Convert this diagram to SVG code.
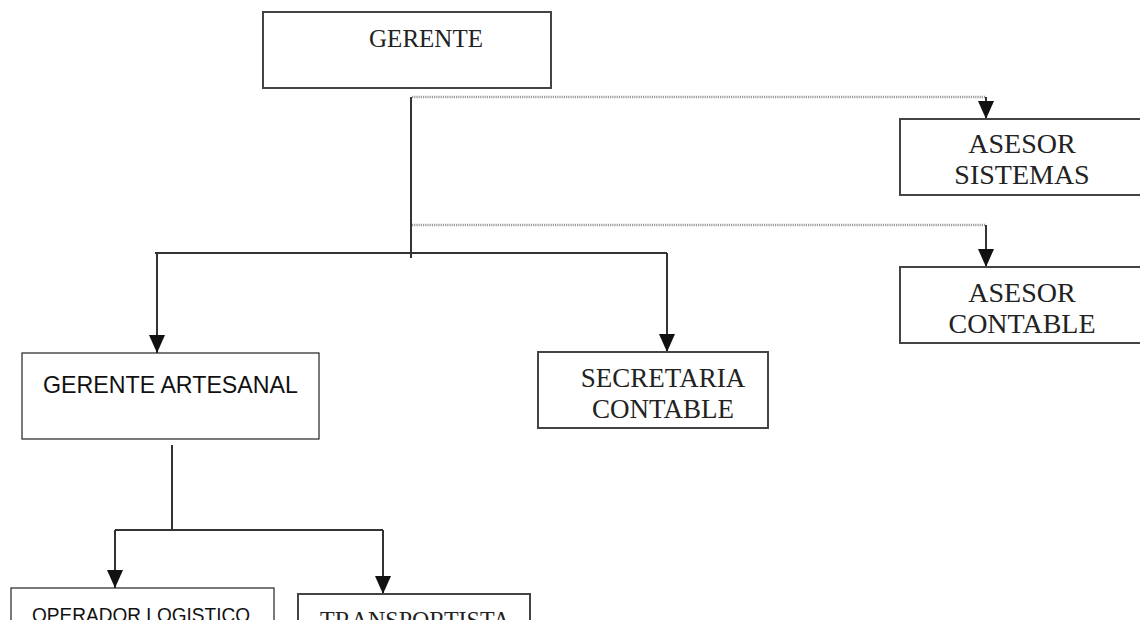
<svg xmlns="http://www.w3.org/2000/svg" width="1140" height="620" viewBox="0 0 1140 620">
<style>
.box{fill:#fff;stroke:#444;stroke-width:2}
.sbox{fill:#fff;stroke:#222;stroke-width:1.2}
.ln{fill:none;stroke:#333;stroke-width:2}
.dot{fill:none;stroke:#999;stroke-width:2.5;stroke-dasharray:1.2 1}
.serif{font-family:"Liberation Serif","Times New Roman",serif;fill:#222;text-anchor:middle}
.sans{font-family:"Liberation Sans",Arial,sans-serif;fill:#111}
</style>
<defs>
<marker id="arr" viewBox="0 0 18 16" refX="18" refY="8" markerWidth="18" markerHeight="16" markerUnits="userSpaceOnUse" orient="auto">
<path d="M0,0 L18,8 L0,16 z" fill="#111"/>
</marker>
</defs>
<g id="connectors">
<path class="dot" d="M412,97 H986"/>
<path class="dot" d="M412,225 H986"/>
<path class="ln" d="M411,97 V258"/>
<path class="ln" d="M155,253 H667"/>
<path class="ln" d="M157,253 V353" marker-end="url(#arr)"/>
<path class="ln" d="M667,253 V352" marker-end="url(#arr)"/>
<path class="ln" d="M986,97 V119" marker-end="url(#arr)"/>
<path class="ln" d="M986,225 V267" marker-end="url(#arr)"/>
<path class="ln" d="M172,445 V530"/>
<path class="ln" d="M115,530 H383"/>
<path class="ln" d="M115,530 V588" marker-end="url(#arr)"/>
<path class="ln" d="M383,530 V594" marker-end="url(#arr)"/>
</g>
<g id="gerente">
<rect class="box" x="263" y="12" width="288" height="76"/>
<text class="serif" x="426" y="47" font-size="25">GERENTE</text>
</g>
<g id="asesor-sistemas">
<rect class="box" x="900" y="119" width="250" height="76"/>
<text class="serif" x="1022" y="153" font-size="28">ASESOR</text>
<text class="serif" x="1022" y="184" font-size="28">SISTEMAS</text>
</g>
<g id="asesor-contable">
<rect class="box" x="900" y="267" width="250" height="76"/>
<text class="serif" x="1022" y="302" font-size="28">ASESOR</text>
<text class="serif" x="1022" y="333" font-size="28">CONTABLE</text>
</g>
<g id="secretaria-contable">
<rect class="box" x="538" y="352" width="230" height="76"/>
<text class="serif" x="663" y="387" font-size="27">SECRETARIA</text>
<text class="serif" x="663" y="418" font-size="27">CONTABLE</text>
</g>
<g id="gerente-artesanal">
<rect class="sbox" x="22" y="353" width="297" height="86"/>
<text class="sans" x="43" y="393" font-size="24" textLength="255" lengthAdjust="spacingAndGlyphs">GERENTE ARTESANAL</text>
</g>
<g id="operador-logistico">
<rect class="sbox" x="11" y="588" width="263" height="60"/>
<text class="sans" x="32" y="622" font-size="21" textLength="218" lengthAdjust="spacingAndGlyphs">OPERADOR LOGISTICO</text>
</g>
<g id="transportista">
<rect class="box" x="298" y="594" width="232" height="60"/>
<text class="serif" x="320" y="629" font-size="26" textLength="190" lengthAdjust="spacingAndGlyphs" style="text-anchor:start">TRANSPORTISTA</text>
</g>
</svg>
